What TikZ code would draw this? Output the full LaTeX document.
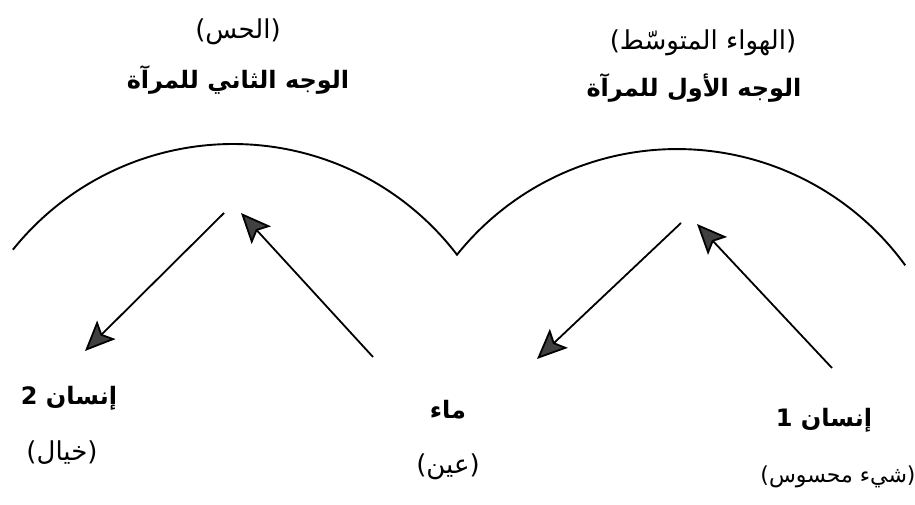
\documentclass[tikz,border=0pt]{standalone}
\usepackage{fontspec}
\usetikzlibrary{arrows.meta}
\TeXXeTstate=1
\newfontfamily\arabicfont[Script=Arabic]{DejaVu Sans}
\begin{document}
\begin{tikzpicture}[x=1pt,y=1pt,
  lbl/.style={inner sep=0pt, font=\arabicfont\fontsize{26}{30}\selectfont},
  lblsmall/.style={inner sep=0pt, font=\arabicfont\fontsize{22}{26}\selectfont},
  lblb/.style={inner sep=0pt, font=\arabicfont\bfseries\fontsize{24}{28}\selectfont},
  mirror/.style={line width=1.9pt},
  ray/.style={line width=1.8pt, -{Stealth[length=30pt,width=26pt,inset=6pt,fill=black!75]}}]
\useasboundingbox (0,0) rectangle (915,504);
% mirror surfaces
\coordinate (lstart) at (12.9,254.3);
\draw[mirror] (lstart) arc[start angle=141.3, end angle=37.4, radius=282]
  arc[start angle=141.3, end angle=36, radius=282];
% labels top
\node[lbl]  (hiss)  at (238,472) {\beginR(الحس)\endR};
\node[lblb] (face2) at (238,424) {\beginR الوجه الثاني للمرآة\endR};
\node[lbl]  (hawa)  at (703,461) {\beginR(الهواء المتوسّط)\endR};
\node[lblb] (face1) at (694,416) {\beginR الوجه الأول للمرآة\endR};
% labels bottom
\node[lblb] (ins2)  at (69,106) {\beginR إنسان 2\endR};
\node[lbl]  (khay)  at (62,51)  {\beginR(خيال)\endR};
\node[lblb] (maa)   at (448,94) {\beginR ماء\endR};
\node[lbl]  (ayn)   at (448,37) {\beginR(عين)\endR};
\node[lblb] (ins1)  at (824,84) {\beginR إنسان 1\endR};
\node[lblsmall] (shay) at (838,27) {\beginR(شيء محسوس)\endR};
% ray endpoints
\coordinate (a1s) at (224,291);
\coordinate (a1e) at (85,153);
\coordinate (a2s) at (373,147);
\coordinate (a2e) at (241,291);
\coordinate (a3s) at (681,281);
\coordinate (a3e) at (537,145);
\coordinate (a4s) at (832,136);
\coordinate (a4e) at (697,280);
\draw[ray] (a1s) -- (a1e);
\draw[ray] (a2s) -- (a2e);
\draw[ray] (a3s) -- (a3e);
\draw[ray] (a4s) -- (a4e);
\end{tikzpicture}
\end{document}
